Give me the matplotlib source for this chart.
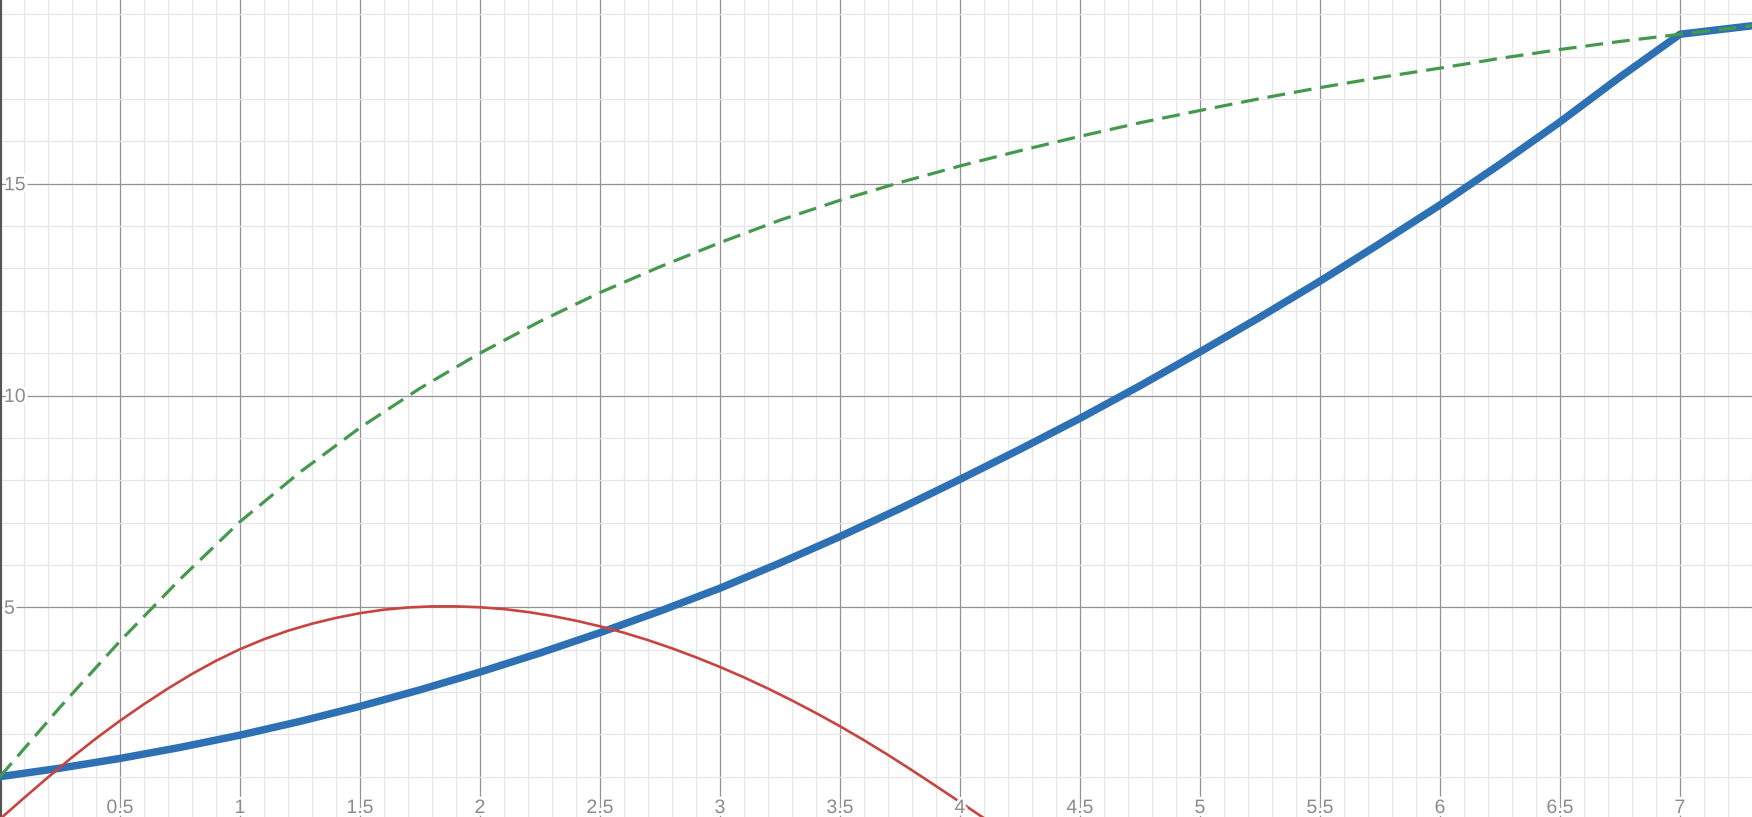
import matplotlib
matplotlib.use("Agg")
import matplotlib.pyplot as plt
import matplotlib.patheffects as pe
from matplotlib.ticker import MultipleLocator

# ---- data ----
green_x = [0.0, 0.25, 0.5, 0.75, 1.0, 1.25, 1.5, 1.75, 2.0, 2.25, 2.5, 2.75,
           3.0, 3.25, 3.5, 3.75, 4.0, 4.25, 4.5, 4.75, 5.0, 5.25, 5.5, 5.75,
           6.0, 6.25, 6.5, 6.75, 7.0, 7.3]
green_y = [1.0, 2.64, 4.2, 5.66, 7.02, 8.19, 9.24, 10.17, 11.0, 11.75, 12.43, 13.04,
           13.61, 14.14, 14.61, 15.03, 15.42, 15.78, 16.12, 16.44, 16.73, 17.01, 17.27, 17.51,
           17.73, 17.96, 18.17, 18.36, 18.53, 18.73]

blue_x = [0.0, 0.25, 0.5, 0.75, 1.0, 1.25, 1.5, 1.75, 2.0, 2.25, 2.5, 2.75,
          3.0, 3.25, 3.5, 3.75, 4.0, 4.25, 4.5, 4.75, 5.0, 5.25, 5.5, 5.75,
          6.0, 6.25, 6.5, 6.75, 7.0, 7.3]
blue_y = [1.0, 1.2, 1.43, 1.69, 1.98, 2.305, 2.66, 3.05, 3.47, 3.92, 4.40, 4.91,
          5.45, 6.045, 6.67, 7.33, 8.02, 8.73, 9.46, 10.23, 11.03, 11.85, 12.70, 13.59,
          14.5, 15.46, 16.46, 17.52, 18.53, 18.73]

red_x = [0.0, 0.1, 0.2, 0.3, 0.4, 0.5, 0.6, 0.7, 0.8, 0.9, 1.0, 1.1, 1.2, 1.3, 1.4,
         1.5, 1.6, 1.7, 1.8, 1.9, 2.0, 2.1, 2.2, 2.3, 2.4, 2.5, 2.6, 2.7, 2.8, 2.9,
         3.0, 3.1, 3.2, 3.3, 3.4, 3.5, 3.6, 3.7, 3.8, 3.9, 4.0, 4.1, 4.15]
red_y = [0.0, 0.497, 0.984, 1.455, 1.902, 2.32, 2.712, 3.082, 3.425, 3.736, 4.01,
         4.245, 4.445, 4.611, 4.749, 4.86, 4.943, 4.995, 5.021, 5.021, 5.0,
         4.956, 4.887, 4.795, 4.682, 4.55, 4.398, 4.224, 4.03, 3.818, 3.59,
         3.344, 3.08, 2.799, 2.502, 2.19, 1.86, 1.513, 1.151, 0.778, 0.40, 0.02, -0.17]

x_tick_labels = ["0.5", "1", "1.5", "2", "2.5", "3", "3.5", "4", "4.5", "5", "5.5", "6", "6.5", "7"]
x_tick_values = [0.5, 1, 1.5, 2, 2.5, 3, 3.5, 4, 4.5, 5, 5.5, 6, 6.5, 7]
y_tick_labels = ["5", "10", "15"]
y_tick_values = [5, 10, 15]

BLUE = "#2d70b3"
RED = "#c74440"
GREEN = "#44994f"

fig = plt.figure(figsize=(17.52, 8.17), dpi=100)
ax = fig.add_axes([0, 0, 1, 1])
ax.set_xlim(0, 1752 / 240.0)
ax.set_ylim(2 / 42.35, 819 / 42.35)

for s in ax.spines.values():
    s.set_visible(False)

ax.xaxis.set_major_locator(MultipleLocator(0.5))
ax.xaxis.set_minor_locator(MultipleLocator(0.1))
ax.yaxis.set_major_locator(MultipleLocator(5))
ax.yaxis.set_minor_locator(MultipleLocator(1))
ax.tick_params(which="both", length=0, labelbottom=False, labelleft=False)
ax.grid(which="minor", color="#e6e6e6", linewidth=0.9, zorder=0)
ax.grid(which="major", color="#929292", linewidth=0.9, zorder=0.5)
ax.set_axisbelow(True)

ax.axvline(0, color="#555555", linewidth=3.0, zorder=1)

ax.plot(blue_x, blue_y, color=BLUE, linewidth=5.4, solid_joinstyle="round",
        solid_capstyle="round", zorder=3)
ax.plot(red_x, red_y, color=RED, linewidth=1.9, solid_joinstyle="round", zorder=4)
ax.plot(green_x, green_y, color=GREEN, linewidth=2.3, dashes=(5.6, 2.8), zorder=5)

halo = [pe.withStroke(linewidth=4, foreground="white")]
for xv, lbl in zip(x_tick_values, x_tick_labels):
    ax.annotate(lbl, xy=(xv, 0), xycoords=("data", "axes fraction"),
                xytext=(0, 4), textcoords="offset pixels",
                ha="center", va="baseline", fontsize=14, color="#8c8c8c",
                family="Liberation Sans", path_effects=halo, zorder=6)
for yv, lbl in zip(y_tick_values, y_tick_labels):
    ax.annotate(lbl, xy=(0, yv), xycoords=("axes fraction", "data"),
                xytext=(4, -6.5), textcoords="offset pixels",
                ha="left", va="baseline", fontsize=14, color="#8c8c8c",
                family="Liberation Sans", path_effects=halo, zorder=6)

fig.savefig("out.png", dpi=100)
